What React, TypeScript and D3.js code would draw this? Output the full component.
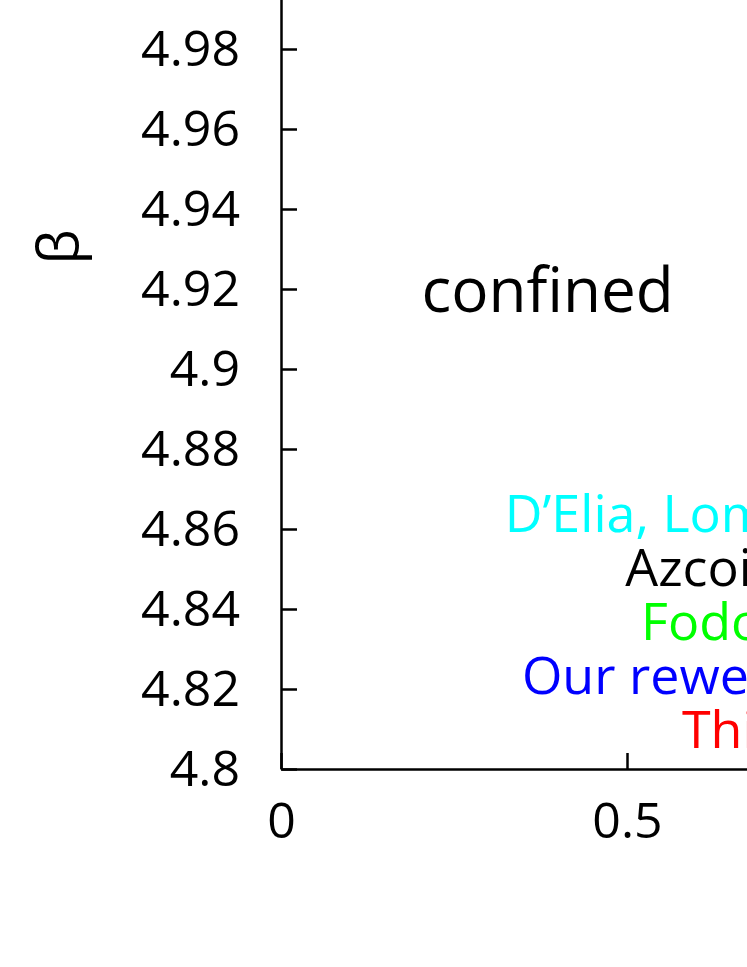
import React, { useEffect, useRef } from 'react';
import * as d3 from 'd3';

// axis ticks
const yTicks = [4.8, 4.82, 4.84, 4.86, 4.88, 4.9, 4.92, 4.94, 4.96, 4.98, 5.0];
const xTicks = [0, 0.5, 1];

// legend entries (right-aligned, gnuplot style)
const legendLabels = ['D\u2019Elia, Lombardo', 'Azcoiti et al.', 'Fodor et al.', 'Our reweighting', 'This work'];
const legendColors = ['#00ffff', '#000000', '#00ff00', '#0000ff', '#ff0000'];

const W = 747;
const H = 967;
const FONT = '"Open Sans", "Noto Sans", sans-serif';

const App = () => {
  const ref = useRef<SVGSVGElement>(null);

  useEffect(() => {
    const svg = d3.select(ref.current);
    svg.selectAll('*').remove();
    svg.attr('width', W).attr('height', H);

    const x = d3.scaleLinear().domain([0, 1]).range([281, 973]);
    const y = d3.scaleLinear().domain([4.8, 5.0]).range([769, -31]);

    const yAxis = d3
      .axisLeft(y)
      .tickValues(yTicks)
      .tickFormat(d => String(+(+d).toFixed(2)))
      .tickSizeInner(-16)
      .tickSizeOuter(0)
      .tickPadding(41);

    const xAxis = d3
      .axisBottom(x)
      .tickValues(xTicks)
      .tickFormat(d => String(d))
      .tickSizeInner(-16)
      .tickSizeOuter(0)
      .tickPadding(33);

    const gy = svg.append('g').attr('transform', `translate(${x(0)},0)`).call(yAxis);
    const gx = svg.append('g').attr('transform', `translate(0,${y(4.8)})`).call(xAxis);

    [gx, gy].forEach(g => {
      g.selectAll('path, line').attr('stroke', '#000').attr('stroke-width', 2.5);
      g.selectAll('text')
        .attr('fill', '#000')
        .style('font-family', FONT)
        .style('font-size', '50px');
    });

    // y label
    svg
      .append('text')
      .attr('transform', `translate(78,247) rotate(-90)`)
      .attr('text-anchor', 'middle')
      .style('font-family', FONT)
      .style('font-size', '56px')
      .text('\u03b2');

    // region label
    svg
      .append('text')
      .attr('x', x(0.203))
      .attr('y', y(4.9142))
      .style('font-family', FONT)
      .style('font-size', '62px')
      .text('confined');

    // legend
    const legendRight = 914;
    svg
      .append('g')
      .selectAll('text')
      .data(legendLabels)
      .enter()
      .append('text')
      .attr('x', legendRight)
      .attr('y', (d, i) => 532 + i * 54)
      .attr('text-anchor', 'end')
      .attr('fill', (d, i) => legendColors[i])
      .style('font-family', FONT)
      .style('font-size', '52px')
      .text(d => d);
  }, []);

  return <svg ref={ref} style={{ position: 'absolute', left: 0, top: 0 }}></svg>;
};

export default App;
